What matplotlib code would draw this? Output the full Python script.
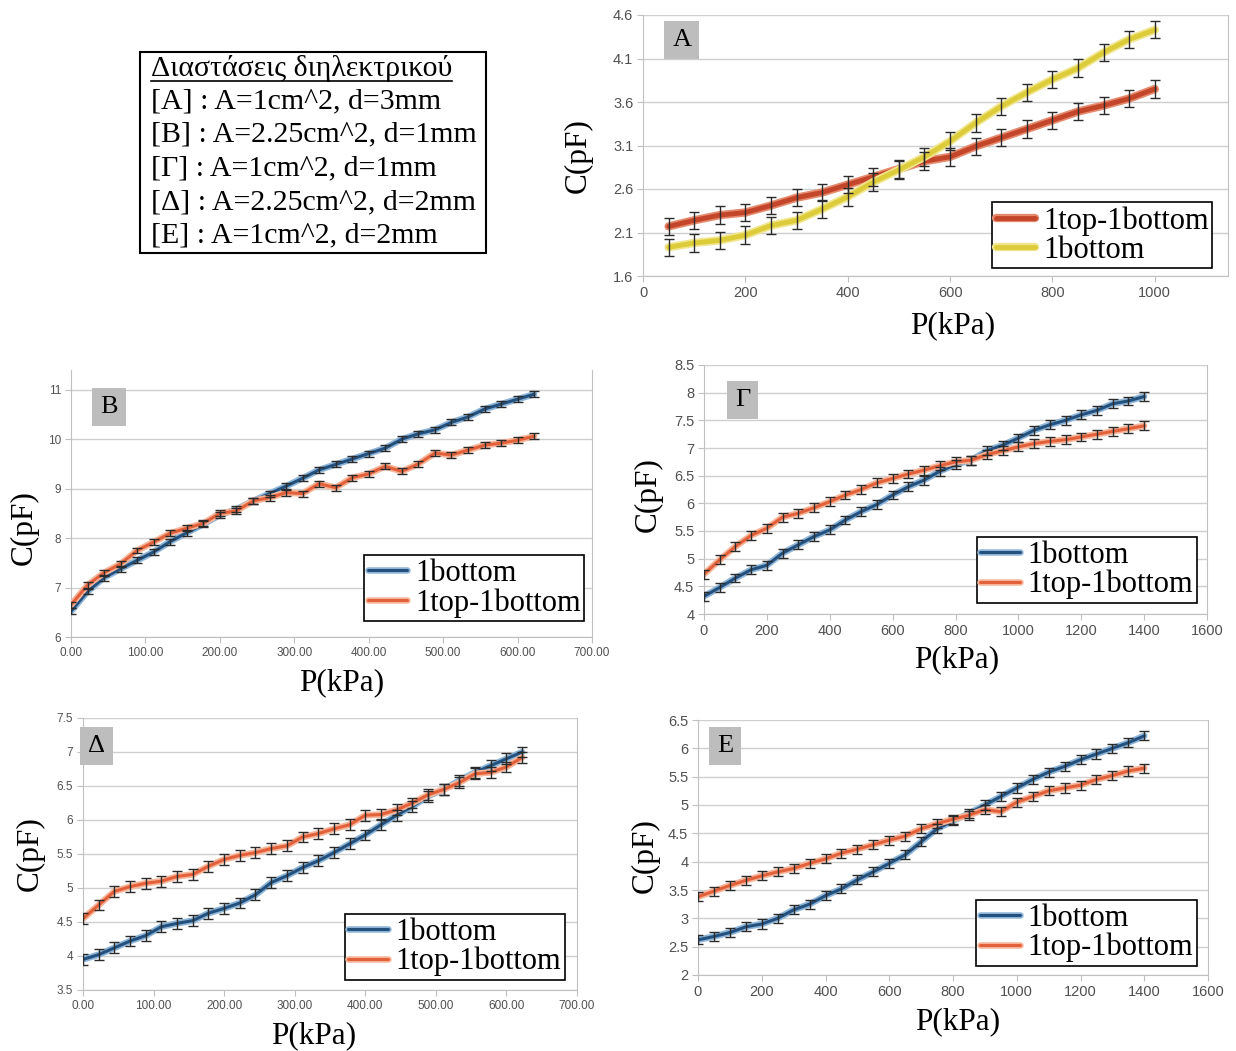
import matplotlib.pyplot as plt
import matplotlib.patheffects as pe
from matplotlib.lines import Line2D
from matplotlib.patches import Rectangle

SERIF = ["Liberation Serif", "DejaVu Serif"]
SANS = ["Liberation Sans", "DejaVu Sans"]

# ---------------- data ----------------
# A : 1cm^2, d=3mm
a_x = [50, 100, 150, 200, 250, 300, 350, 400, 450, 500,
       550, 600, 650, 700, 750, 800, 850, 900, 950, 1000]
a_top = [2.17, 2.24, 2.30, 2.33, 2.41, 2.50, 2.56, 2.65, 2.74, 2.83,
         2.92, 2.97, 3.09, 3.19, 3.29, 3.39, 3.49, 3.56, 3.64, 3.75]
a_bottom = [1.93, 1.98, 2.01, 2.07, 2.18, 2.24, 2.37, 2.51, 2.68, 2.82,
            2.97, 3.15, 3.36, 3.55, 3.71, 3.86, 3.99, 4.17, 4.32, 4.43]
a_err = 0.1

# B and Delta : 2.25cm^2 (step 22.2 kPa)
p225 = [0.0, 22.2, 44.4, 66.7, 88.9, 111.1, 133.3, 155.6, 177.8, 200.0,
        222.2, 244.4, 266.7, 288.9, 311.1, 333.3, 355.6, 377.8, 400.0, 422.2,
        444.4, 466.7, 488.9, 511.1, 533.3, 555.6, 577.8, 600.0, 622.2]
b_bottom = [6.52, 6.92, 7.20, 7.38, 7.55, 7.72, 7.93, 8.11, 8.28, 8.47,
            8.58, 8.75, 8.90, 9.05, 9.21, 9.38, 9.49, 9.60, 9.71, 9.82,
            10.00, 10.11, 10.19, 10.34, 10.45, 10.61, 10.71, 10.81, 10.91]
b_top = [6.65, 7.05, 7.30, 7.48, 7.75, 7.92, 8.10, 8.20, 8.30, 8.50,
         8.55, 8.75, 8.82, 8.92, 8.90, 9.10, 9.02, 9.22, 9.30, 9.45,
         9.35, 9.50, 9.72, 9.68, 9.78, 9.88, 9.92, 9.98, 10.06]
b_err = 0.06

d_bottom = [3.95, 4.02, 4.12, 4.22, 4.30, 4.43, 4.48, 4.52, 4.63, 4.70,
            4.78, 4.90, 5.08, 5.18, 5.30, 5.40, 5.52, 5.65, 5.78, 5.93,
            6.07, 6.20, 6.35, 6.45, 6.58, 6.70, 6.80, 6.90, 7.00]
d_top = [4.55, 4.75, 4.95, 5.02, 5.07, 5.10, 5.17, 5.20, 5.32, 5.42,
         5.48, 5.52, 5.58, 5.62, 5.75, 5.80, 5.87, 5.93, 6.07, 6.08,
         6.15, 6.25, 6.37, 6.45, 6.55, 6.68, 6.70, 6.78, 6.92]
d_err = 0.08

# Gamma and E : 1cm^2 (step 50 kPa)
p100 = [0, 50, 100, 150, 200, 250, 300, 350, 400, 450,
        500, 550, 600, 650, 700, 750, 800, 850, 900, 950,
        1000, 1050, 1100, 1150, 1200, 1250, 1300, 1350, 1400]
g_bottom = [4.32, 4.48, 4.65, 4.80, 4.88, 5.10, 5.25, 5.40, 5.52, 5.70,
            5.85, 5.98, 6.15, 6.30, 6.42, 6.58, 6.70, 6.78, 6.95, 7.05,
            7.18, 7.32, 7.42, 7.50, 7.60, 7.68, 7.80, 7.85, 7.93]
g_top = [4.72, 4.98, 5.22, 5.42, 5.55, 5.75, 5.82, 5.92, 6.03, 6.15,
         6.25, 6.37, 6.45, 6.53, 6.60, 6.68, 6.75, 6.78, 6.88, 6.95,
         7.02, 7.08, 7.12, 7.15, 7.20, 7.25, 7.30, 7.35, 7.40]
g_err = 0.08

e_bottom = [2.62, 2.68, 2.75, 2.85, 2.90, 3.00, 3.15, 3.25, 3.40, 3.52,
            3.68, 3.82, 3.97, 4.12, 4.35, 4.58, 4.72, 4.85, 5.00, 5.15,
            5.30, 5.45, 5.58, 5.68, 5.80, 5.90, 6.00, 6.10, 6.22]
e_top = [3.38, 3.48, 3.58, 3.67, 3.75, 3.82, 3.88, 3.97, 4.05, 4.15,
         4.22, 4.30, 4.38, 4.45, 4.58, 4.67, 4.75, 4.82, 4.92, 4.88,
         5.05, 5.15, 5.25, 5.30, 5.35, 5.45, 5.52, 5.60, 5.65]
e_err = 0.08

info_title = "Διαστάσεις διηλεκτρικού"
info_lines = ["[A] : A=1cm^2, d=3mm",
              "[B] : A=2.25cm^2, d=1mm",
              "[Γ] : A=1cm^2, d=1mm",
              "[Δ] : A=2.25cm^2, d=2mm",
              "[E] : A=1cm^2, d=2mm"]

# colours
RED, RED_HALO = "#c4462a", "#e58a6e"
YEL, YEL_HALO = "#ddcc3a", "#f1e68e"
BLUE, BLUE_HALO = "#23507c", "#8fb6d8"
ORG, ORG_HALO = "#e2603a", "#f7b59a"

W, H = 1236, 1051
fig = plt.figure(figsize=(W / 100, H / 100), dpi=100)


def px_axes(l, t, r, b):
    return fig.add_axes([l / W, 1 - b / H, (r - l) / W, (b - t) / H])


def draw(ax, x, y, err, color, halo, lw, label):
    ax.plot(x, y, color=color, lw=lw, label=label, zorder=3, solid_capstyle="round",
            path_effects=[pe.Stroke(linewidth=lw + 2.5, foreground=halo), pe.Normal()])
    ax.errorbar(x, y, yerr=err, fmt="none", ecolor="#2b2b2b", elinewidth=1.0,
                capsize=3.5, capthick=1.0, zorder=4)


def style(ax, xlim, xticks, xfmt, ylim, yticks, yfmt, tick_fs):
    ax.set_xlim(*xlim)
    ax.set_ylim(*ylim)
    ax.set_xticks(xticks)
    ax.set_xticklabels([xfmt.format(v) for v in xticks])
    ax.set_yticks(yticks)
    ax.set_yticklabels([yfmt.format(v) for v in yticks])
    ax.grid(axis="y", color="#cfcfcf", lw=1.0)
    ax.set_axisbelow(True)
    for s in ["left", "bottom", "right"]:
        ax.spines[s].set_color("#c0c0c0")
    ax.spines["top"].set_visible(False)
    ax.tick_params(length=4, color="#c0c0c0", labelcolor="#505050", labelsize=tick_fs,
                   pad=3)
    for lab in ax.get_xticklabels() + ax.get_yticklabels():
        lab.set_family(SANS)


def labels(ax, tag, tag_x, tag_y, ylab, xlab, leg_anchor, order):
    ax.text(tag_x, tag_y, tag, transform=ax.transAxes, family=SERIF, fontsize=19,
            va="center", ha="left",
            bbox=dict(boxstyle="square,pad=0.3", fc="#bdbdbd", ec="none"))
    ax.text(ylab[0], ylab[1], "C(pF)", transform=ax.transAxes, family=SERIF,
            fontsize=22.5, rotation=90, ha="center", va="center")
    ax.text(xlab[0], xlab[1], "P(kPa)", transform=ax.transAxes, family=SERIF,
            fontsize=22.5, ha="center", va="center")
    handles, labs = ax.get_legend_handles_labels()
    handles = [handles[i] for i in order]
    labs = [labs[i] for i in order]
    leg = ax.legend(handles, labs, loc="lower right", bbox_to_anchor=leg_anchor,
                    prop={"family": SERIF, "size": 22}, fancybox=False,
                    edgecolor="black", framealpha=1, handlelength=1.3,
                    handletextpad=0.25, borderpad=0.12, labelspacing=0.0,
                    borderaxespad=0)
    leg.get_frame().set_linewidth(1.2)
    leg.set_zorder(10)


# ---------------- A ----------------
ax = px_axes(643, 15, 1228, 276)
draw(ax, a_x, a_top, a_err, RED, RED_HALO, 3.5, "1top-1bottom")
draw(ax, a_x, a_bottom, a_err, YEL, YEL_HALO, 3.5, "1bottom")
style(ax, (0, 1143), [0, 200, 400, 600, 800, 1000], "{:g}",
      (1.6, 4.6), [1.6, 2.1, 2.6, 3.1, 3.6, 4.1, 4.6], "{:.1f}", 10.5)
labels(ax, "A", 0.05, 0.904, (-0.11, 0.46), (0.53, -0.19), (0.973, 0.03), [0, 1])

# ---------------- B ----------------
ax = px_axes(71, 370, 592, 637)
draw(ax, p225, b_bottom, b_err, BLUE, BLUE_HALO, 2.2, "1bottom")
draw(ax, p225, b_top, b_err, ORG, ORG_HALO, 2.2, "1top-1bottom")
style(ax, (0, 700), [0, 100, 200, 300, 400, 500, 600, 700], "{:.2f}",
      (6, 11.4), [6, 7, 8, 9, 10, 11], "{:g}", 8.5)
labels(ax, "B", 0.056, 0.86, (-0.09, 0.41), (0.52, -0.17), (0.985, 0.059), [0, 1])

# ---------------- Gamma ----------------
ax = px_axes(704, 365, 1207, 614)
draw(ax, p100, g_bottom, g_err, BLUE, BLUE_HALO, 2.2, "1bottom")
draw(ax, p100, g_top, g_err, ORG, ORG_HALO, 2.2, "1top-1bottom")
style(ax, (0, 1600), [0, 200, 400, 600, 800, 1000, 1200, 1400, 1600], "{:g}",
      (4, 8.5), [4, 4.5, 5, 5.5, 6, 6.5, 7, 7.5, 8, 8.5], "{:g}", 10.5)
labels(ax, "Γ", 0.062, 0.86, (-0.111, 0.478), (0.503, -0.185), (0.98, 0.044), [0, 1])

# ---------------- Delta ----------------
ax = px_axes(83, 718, 577, 990)
draw(ax, p225, d_bottom, d_err, BLUE, BLUE_HALO, 2.2, "1bottom")
draw(ax, p225, d_top, d_err, ORG, ORG_HALO, 2.2, "1top-1bottom")
style(ax, (0, 700), [0, 100, 200, 300, 400, 500, 600, 700], "{:.2f}",
      (3.5, 7.5), [3.5, 4, 4.5, 5, 5.5, 6, 6.5, 7, 7.5], "{:g}", 8.5)
labels(ax, "Δ", 0.01, 0.896, (-0.107, 0.5), (0.466, -0.167), (0.976, 0.037), [0, 1])

# ---------------- E ----------------
ax = px_axes(698, 720, 1208, 975)
draw(ax, p100, e_bottom, e_err, BLUE, BLUE_HALO, 2.2, "1bottom")
draw(ax, p100, e_top, e_err, ORG, ORG_HALO, 2.2, "1top-1bottom")
style(ax, (0, 1600), [0, 200, 400, 600, 800, 1000, 1200, 1400, 1600], "{:g}",
      (2, 6.5), [2, 2.5, 3, 3.5, 4, 4.5, 5, 5.5, 6, 6.5], "{:g}", 10.5)
labels(ax, "E", 0.037, 0.898, (-0.104, 0.47), (0.51, -0.184), (0.978, 0.035), [0, 1])

# ---------------- info box ----------------
fig.add_artist(Rectangle((140 / W, 1 - 253 / H), 346 / W, 201 / H,
                         transform=fig.transFigure, fill=False, ec="black", lw=1.5))
title = fig.text(151 / W, 1 - 68 / H, info_title, family=SERIF, fontsize=21.5,
                 ha="left", va="center")
for i, line in enumerate(info_lines):
    fig.text(151 / W, 1 - (101 + 33.7 * i) / H, line, family=SERIF, fontsize=21.5,
             ha="left", va="center")

fig.canvas.draw()
bb = title.get_window_extent()
uy = (bb.y0 + 1) / H
fig.add_artist(Line2D([bb.x0 / W, bb.x1 / W], [uy, uy], transform=fig.transFigure,
                      color="black", lw=1.2))

fig.savefig("out.png", dpi=100)
